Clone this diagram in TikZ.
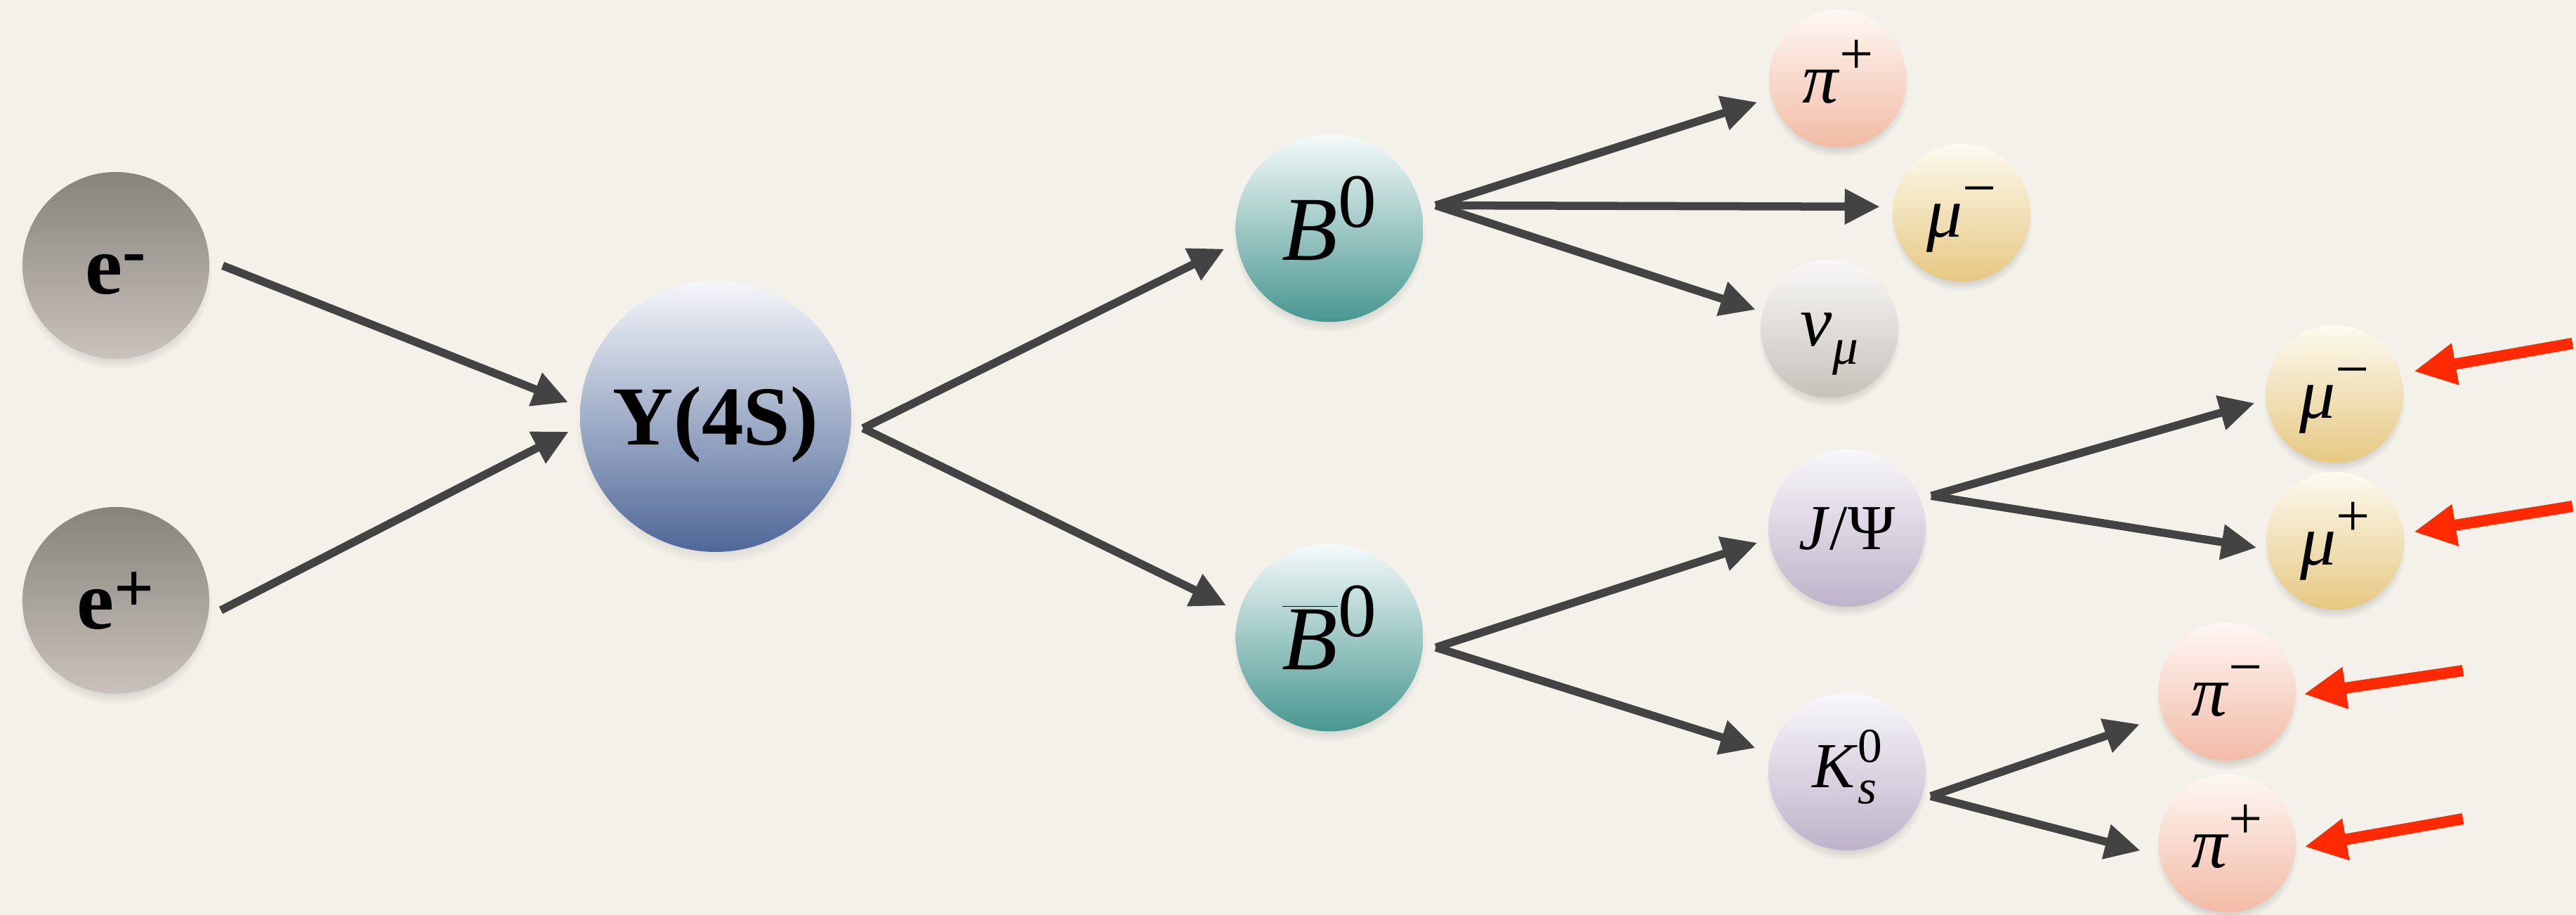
\documentclass[tikz,border=0pt]{standalone}
\usepackage{fontspec}
\setmainfont{Liberation Serif}
\usepackage{graphicx}
\usetikzlibrary{arrows.meta,calc,shadows,fadings}
\definecolor{paper}{HTML}{F4F1EA}
\definecolor{arrgray}{HTML}{434343}
\definecolor{hitred}{HTML}{FF2A00}
\definecolor{etop}{HTML}{86837D}
\definecolor{ebot}{HTML}{C9C2BA}
\definecolor{ytop}{HTML}{F5F6FA}
\definecolor{ybot}{HTML}{4F6898}
\definecolor{btop}{HTML}{F5FAFA}
\definecolor{bbot}{HTML}{489690}
\definecolor{pitop}{HTML}{FEF7F4}
\definecolor{pibot}{HTML}{F2BBA6}
\definecolor{mutop}{HTML}{FDFAF0}
\definecolor{mubot}{HTML}{E6C882}
\definecolor{nutop}{HTML}{F9F8F6}
\definecolor{nubot}{HTML}{C6C1BB}
\definecolor{jtop}{HTML}{F8F7FA}
\definecolor{jbot}{HTML}{BEB3CA}
\newcommand\chg[2][0.4em]{\raisebox{#1}{\scalebox{0.84}{#2}}}
\newcommand\idx[1]{\raisebox{-0.25em}{\scalebox{0.72}{#1}}}
\newcommand\stk[2]{\raisebox{-0.25em}{\scalebox{0.76}{\begin{tabular}[b]{@{}l@{}}#1\\[-0.3em]#2\end{tabular}}}}
\newcommand\lstrut{\rule[-0.216em]{0pt}{1.107em}}

\begin{document}
\begin{tikzpicture}[>={Triangle[length=5mm,width=4.8mm]},
  ball/.style={circle,inner sep=0pt,execute at begin node=\lstrut,
    circular drop shadow={shadow xshift=0pt,shadow yshift=-3pt,shadow scale=1.03,opacity=0.3}},
  beam/.style={ball,minimum size=2.66cm,top color=etop,bottom color=ebot,font=\fontsize{34}{40}\selectfont\bfseries},
  upsilon/.style={ball,minimum size=3.86cm,top color=ytop,bottom color=ybot,font=\fontsize{34}{40}\selectfont\bfseries},
  bmeson/.style={ball,minimum size=2.67cm,top color=btop,bottom color=bbot,font=\fontsize{37}{43}\selectfont},
  inter/.style={ball,minimum size=2.24cm,top color=jtop,bottom color=jbot,font=\fontsize{26}{30}\selectfont},
  final/.style={ball,minimum size=1.96cm,font=\fontsize{29}{34}\selectfont},
  pion/.style={top color=pitop,bottom color=pibot},
  muon/.style={top color=mutop,bottom color=mubot},
  neutrino/.style={top color=nutop,bottom color=nubot},
  arr/.style={->,draw=arrgray,line width=1.15mm},
  hit/.style={-{Triangle[length=6mm,width=5.6mm]},draw=hitred,line width=1.6mm}]

  \useasboundingbox (0,0) rectangle (36.68,13.03);
  \fill[paper] (0,0) rectangle (36.68,13.03);

  \node[beam] (em) at (1.65,9.25) {e\chg[0.23em]{-}};
  \node[beam] (ep) at (1.65,4.48) {e\chg[0.2em]{+}};
  \node[upsilon] (Y) at (10.19,7.10) {Y(4S)};
  \node[bmeson] (B) at (18.93,9.78) {\textit{B}\chg[0.36em]{0}};
  \node[bmeson] (Bb) at (18.93,3.95) {$\overline{\hbox{\textit{B}}}$\chg[0.36em]{0}};
  \node[final,pion] (pip) at (26.17,11.91) {\textit{π}\chg{+}};
  \node[final,muon] (mua) at (27.93,10.00) {\textit{μ}\chg{−}};
  \node[final,neutrino] (nu) at (26.05,8.35) {\textit{ν}\idx{\textit{μ}}};
  \node[inter] (J) at (26.30,5.51) {\textit{J}/Ψ};
  \node[inter] (K) at (26.30,2.04) {\textit{K}\stk{0}{\textit{s}}};
  \node[final,muon] (mub) at (33.24,7.42) {\textit{μ}\chg{−}};
  \node[final,muon] (mup) at (33.25,5.33) {\textit{μ}\chg{+}};
  \node[final,pion] (pim) at (31.71,3.18) {\textit{π}\chg{−}};
  \node[final,pion] (pib) at (31.71,1.02) {\textit{π}\chg{+}};

  \coordinate (Yfork) at ([xshift=1.7mm]Y.-5);
  \coordinate (Bfork) at ([xshift=2.1mm]B.14);
  \coordinate (Bbfork) at ([xshift=1.8mm]Bb.-6);
  \coordinate (Jfork) at ([xshift=1.7mm]J.24);
  \coordinate (Kfork) at ([xshift=1.2mm]K.-18);

  \draw[arr,shorten <=2mm,shorten >=1.8mm] (em.3) -- (Y.176);
  \draw[arr,shorten <=2mm,shorten >=1.8mm] (ep.-10) -- (Y.184);
  \draw[arr,shorten >=1.9mm] (Yfork) -- (B.189);
  \draw[arr,shorten >=2mm] (Yfork) -- (Bb.164);
  \draw[arr,shorten >=2.1mm] (Bfork) -- (pip.196);
  \draw[arr,shorten >=1.8mm] (Bfork) -- (mua.175);
  \draw[arr,shorten >=1mm] (Bfork) -- (nu.166);
  \draw[arr,shorten >=1.7mm] (Bbfork) -- (J.188);
  \draw[arr,shorten >=2.2mm] (Bbfork) -- (K.166);
  \draw[arr,shorten >=1.6mm] (Jfork) -- (mub.185);
  \draw[arr,shorten >=1.4mm] (Jfork) -- (mup.187);
  \draw[arr,shorten >=3.4mm] (Kfork) -- (pim.201);
  \draw[arr,shorten >=2.7mm] (Kfork) -- (pib.190);

  \coordinate (mubhit) at (36.63,8.14);
  \coordinate (muphit) at (36.63,5.82);
  \coordinate (pimhit) at (35.07,3.48);
  \coordinate (pibhit) at (35.07,1.37);
  \draw[hit,shorten >=1.9mm] (mubhit) -- (mub.17);
  \draw[hit,shorten >=1.4mm] (muphit) -- (mup.6);
  \draw[hit,shorten >=1.1mm] (pimhit) -- (pim.-3);
  \draw[hit,shorten >=1.2mm] (pibhit) -- (pib.-4);
\end{tikzpicture}
\end{document}
